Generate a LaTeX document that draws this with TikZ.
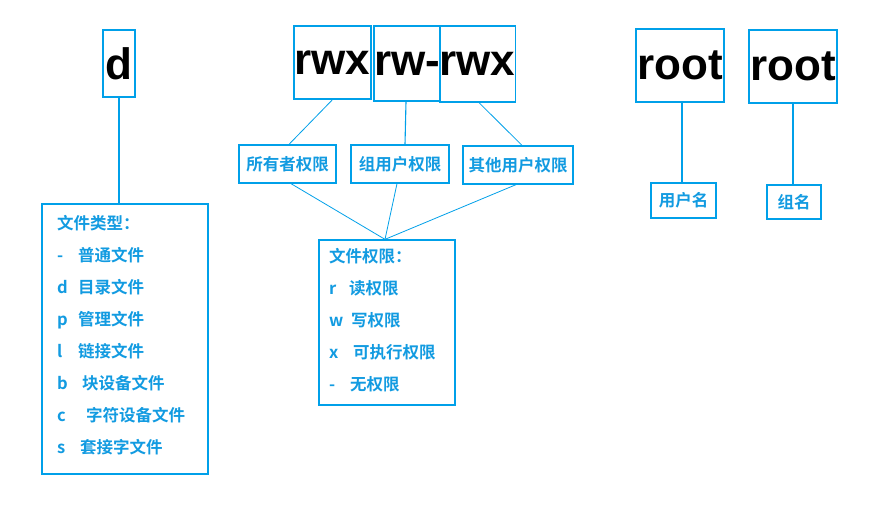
\documentclass[tikz,border=0pt]{standalone}
\usepackage{fontspec}
\setmainfont{Liberation Sans}
\newfontfamily\cjkfont{Noto Sans CJK SC Bold}
\newfontfamily\latinbig{Liberation Sans Bold}
\usetikzlibrary{calc}
\definecolor{lineblue}{RGB}{0,160,233}
\definecolor{textblue}{RGB}{18,155,225}
\begin{document}
\begin{tikzpicture}[x=1pt,y=-1pt,
  box/.style={draw=lineblue, line width=1.3pt, rectangle, inner sep=0pt},
  bigtxt/.style={box, font=\latinbig\fontsize{44}{44}\selectfont, text=black},
  lbl/.style={box, font=\cjkfont\fontsize{16.5}{18}\selectfont, text=textblue},
  lst/.style={inner sep=0pt, font=\cjkfont\fontsize{16.5}{18}\selectfont, text=textblue},
  conn/.style={draw=lineblue, line width=1.1pt},
  thin/.style={draw=lineblue, line width=0.8pt}]
\useasboundingbox (0,0) rectangle (878,509);
\fill[white] (0,0) rectangle (878,509);

% top boxes
\node[bigtxt, minimum width=32pt, minimum height=67pt] (d) at (119,63.5) {d};
\node[bigtxt, minimum width=77pt, minimum height=73pt] (rwx1) at (332.5,62.5) {rwx};
\node[bigtxt, minimum width=64pt, minimum height=75pt] (rwm) at (407,63.5) {rw-};
\node[bigtxt, minimum width=71pt, minimum height=76pt] (rwx2) at (477.5,64) {rwx};
\node[bigtxt, minimum width=88pt, minimum height=73pt] (root1) at (680,65.5) {root};
\node[bigtxt, minimum width=88pt, minimum height=73pt] (root2) at (793,66.5) {root};

% middle labels
\node[lbl, minimum width=97pt, minimum height=38pt] (own) at (287.5,164) {所有者权限};
\node[lbl, minimum width=98pt, minimum height=38pt] (grp) at (400,164) {组用户权限};
\node[lbl, minimum width=110pt, minimum height=38pt] (oth) at (518,165) {其他用户权限};
\node[lbl, minimum width=65pt, minimum height=35pt] (user) at (683.5,200.5) {用户名};
\node[lbl, minimum width=54pt, minimum height=34pt] (grpn) at (794,202) {组名};

% big list boxes
\node[box, minimum width=166pt, minimum height=270pt] (type) at (125,339) {};
\node[box, minimum width=136pt, minimum height=165pt] (perm) at (387,322.5) {};

% file type list
\node[lst, anchor=base west] (tyh) at (57,229) {文件类型：};
\foreach \i/\l/\g/\t in {1/-/21/普通文件, 2/d/21/目录文件, 3/p/21/管理文件, 4/l/21/链接文件, 5/b/25/块设备文件, 6/c/29/字符设备文件, 7/s/23/套接字文件}
  \node[lst, anchor=base west] (ty\i) at (57,{229+32*\i}) {\makebox[\g pt][l]{\l}\t};

% permission list
\node[lst, anchor=base west] (peh) at (329,262) {文件权限：};
\foreach \i/\l/\g/\t in {1/r/20/读权限, 2/w/22/写权限, 3/x/24/可执行权限, 4/-/21/无权限}
  \node[lst, anchor=base west] (pe\i) at (329,{262+32*\i}) {\makebox[\g pt][l]{\l}\t};

% connectors
\coordinate (meet) at ([xshift=-2pt]perm.north);
\draw[conn] (d.south) -- (type.north -| d.south);
\draw[thin] (rwx1.south) -- ([xshift=1.5pt]own.north);
\draw[conn] ([xshift=-1pt]rwm.south) -- ([xshift=5pt]grp.north);
\draw[thin] ([xshift=1.5pt]rwx2.south) -- ([xshift=4pt]oth.north);
\draw[thin] ([xshift=3.5pt]own.south) -- (meet);
\draw[thin] ([xshift=-3pt]grp.south) -- (meet);
\draw[thin] ([xshift=-2pt]oth.south) -- (meet);
\draw[conn] ([xshift=2pt]root1.south) -- ([xshift=2pt]root1.south |- user.north);
\draw[conn] (root2.south) -- (root2.south |- grpn.north);
\end{tikzpicture}
\end{document}
